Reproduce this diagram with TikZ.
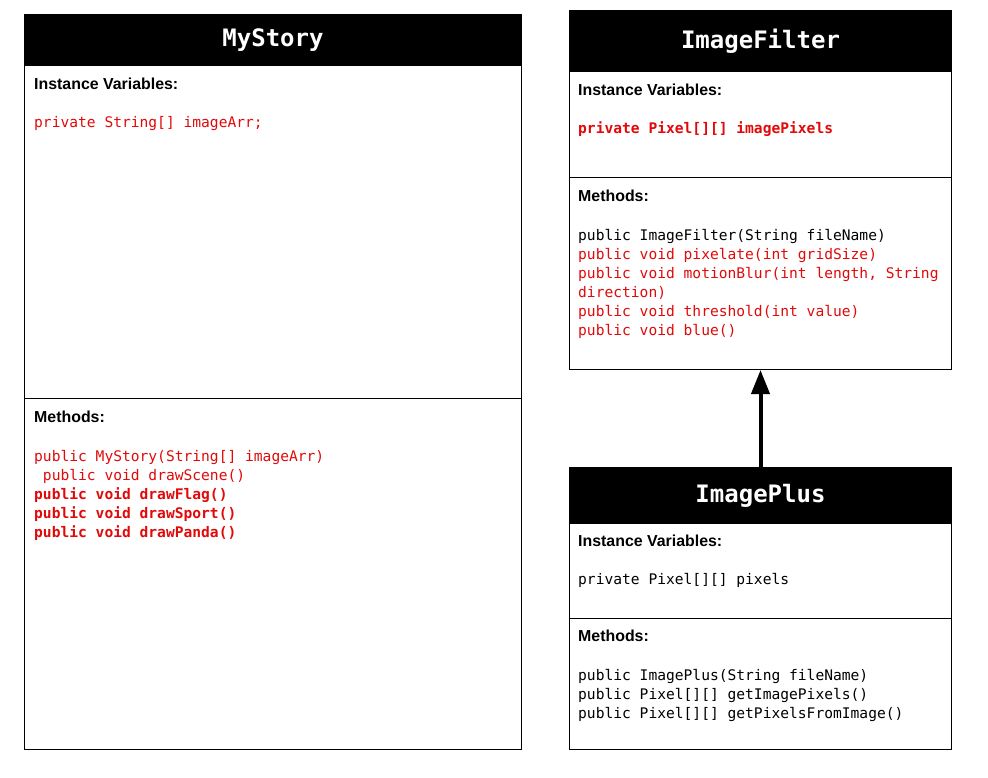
\documentclass[tikz,border=0pt]{standalone}
\usepackage{fontspec}
\setmainfont{Liberation Sans}
\newfontfamily\codefont{DejaVu Sans Mono}
\usetikzlibrary{arrows.meta}
\definecolor{codered}{RGB}{225,10,10}
\begin{document}
\begin{tikzpicture}[x=1pt,y=-1pt,
  classbox/.style={draw=black, line width=1pt, anchor=north west, inner sep=0, fill=white},
  header/.style={fill=black, draw=black, line width=1pt, anchor=north west, inner sep=0},
  title/.style={text=white, inner sep=0, font=\codefont\bfseries\fontsize{24}{28}\selectfont},
  label/.style={anchor=base west, inner sep=0, font=\bfseries\fontsize{15.9}{19}\selectfont},
  code/.style={anchor=base west, inner sep=0, font=\codefont\fontsize{14.6}{19}\selectfont},
  redcode/.style={code, text=codered},
  boldred/.style={code, text=codered, font=\codefont\bfseries\fontsize{14.6}{19}\selectfont},
  divider/.style={draw=black, line width=1pt}]
\useasboundingbox (0,0) rectangle (988,777);
\fill[white] (0,0) rectangle (988,777);

% MyStory
\node[classbox, minimum width=497pt, minimum height=735pt] (story) at (24,14) {};
\node[header, minimum width=497pt, minimum height=51pt] (storyhead) at (24,14) {};
\node[title] (storytitle) at (storyhead.center) {MyStory};
\draw[divider] (24,398) -- (521,398);
\node[label] (storyiv) at (34,89) {Instance Variables:};
\node[redcode] (storyv1) at (34,127) {private String[] imageArr;};
\node[label] (storym) at (34,422) {Methods:};
\node[redcode] (storym1) at (34,461) {public MyStory(String[] imageArr)};
\node[redcode] (storym2) at (34,480) {\ public void drawScene()};
\node[boldred] (storym3) at (34,499) {public void drawFlag()};
\node[boldred] (storym4) at (34,518) {public void drawSport()};
\node[boldred] (storym5) at (34,537) {public void drawPanda()};

% ImageFilter
\node[classbox, minimum width=382pt, minimum height=359pt] (filter) at (569,10) {};
\node[header, minimum width=382pt, minimum height=61pt] (filterhead) at (569,10) {};
\node[title] (filtertitle) at (filterhead.center) {ImageFilter};
\draw[divider] (569,177) -- (951,177);
\node[label] (filteriv) at (578,95) {Instance Variables:};
\node[boldred] (filterv1) at (578,133) {private Pixel[][] imagePixels};
\node[label] (filterm) at (578,201) {Methods:};
\node[code] (filterm1) at (578,240) {public ImageFilter(String fileName)};
\node[redcode] (filterm2) at (578,259) {public void pixelate(int gridSize)};
\node[redcode] (filterm3) at (578,278) {public void motionBlur(int length, String};
\node[redcode] (filterm4) at (578,297) {direction)};
\node[redcode] (filterm5) at (578,316) {public void threshold(int value)};
\node[redcode] (filterm6) at (578,335) {public void blue()};

% ImagePlus
\node[classbox, minimum width=382pt, minimum height=282pt] (plus) at (569,467) {};
\node[header, minimum width=382pt, minimum height=56pt] (plushead) at (569,467) {};
\node[title] (plustitle) at (plushead.center) {ImagePlus};
\draw[divider] (569,618) -- (951,618);
\node[label] (plusiv) at (578,546) {Instance Variables:};
\node[code] (plusv1) at (578,584) {private Pixel[][] pixels};
\node[label] (plusm) at (578,641) {Methods:};
\node[code] (plusm1) at (578,680) {public ImagePlus(String fileName)};
\node[code] (plusm2) at (578,699) {public Pixel[][] getImagePixels()};
\node[code] (plusm3) at (578,718) {public Pixel[][] getPixelsFromImage()};

% inheritance arrow
\draw[line width=4pt, -{Triangle[length=24pt,width=18pt]}] (plus.north) -- (filter.south);
\end{tikzpicture}
\end{document}
